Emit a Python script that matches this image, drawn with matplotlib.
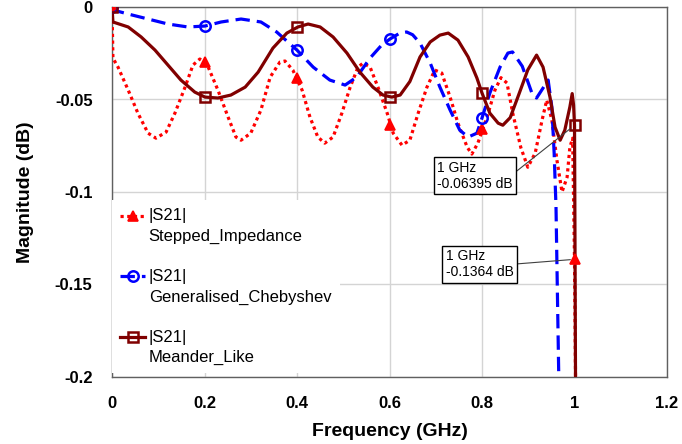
import matplotlib
matplotlib.use("Agg")
import matplotlib.pyplot as plt
from matplotlib.lines import Line2D
from matplotlib.legend_handler import HandlerLine2D

plt.rcParams['font.family'] = ['Liberation Sans', 'DejaVu Sans']

# ---------------- data ----------------
# Stepped impedance |S21| (dB)
si_f = [0, 0.002, 0.013, 0.035, 0.056, 0.078, 0.095, 0.117, 0.136, 0.158, 0.175,
        0.190, 0.208, 0.229, 0.251, 0.268, 0.279, 0.300, 0.322, 0.342, 0.363,
        0.374, 0.391, 0.411, 0.428, 0.445, 0.460, 0.478, 0.497, 0.515, 0.532,
        0.543, 0.558, 0.575, 0.595, 0.608, 0.627, 0.644, 0.662, 0.681, 0.698,
        0.713, 0.731, 0.748, 0.768, 0.778, 0.791, 0.811, 0.828, 0.841, 0.854,
        0.867, 0.884, 0.899, 0.915, 0.930, 0.940, 0.951, 0.962, 0.973, 0.984,
        0.990, 0.996, 1.000, 1.004]
si_db = [0, -0.0276, -0.0325, -0.0449, -0.0574, -0.0682, -0.0709, -0.0676, -0.0574,
         -0.0433, -0.0314, -0.0281, -0.0325, -0.0449, -0.0595, -0.0703, -0.0720,
         -0.0682, -0.0557, -0.0379, -0.0298, -0.0292, -0.0341, -0.0449, -0.0595,
         -0.0703, -0.0736, -0.0703, -0.0574, -0.0433, -0.0325, -0.0303, -0.0325,
         -0.0433, -0.0574, -0.0682, -0.0747, -0.0720, -0.0574, -0.0433, -0.0341,
         -0.0357, -0.0487, -0.0628, -0.0758, -0.0795, -0.0736, -0.0595, -0.0449,
         -0.0382, -0.0411, -0.0580, -0.0760, -0.0866, -0.0790, -0.0610, -0.0503,
         -0.0610, -0.0828, -0.1000, -0.0920, -0.0758, -0.0709, -0.1364, -0.25]

# Generalised Chebyshev |S21| (dB)
gc_f = [0, 0.002, 0.035, 0.078, 0.121, 0.164, 0.201, 0.236, 0.279, 0.322, 0.356,
        0.400, 0.435, 0.471, 0.504, 0.529, 0.558, 0.583, 0.601, 0.623, 0.637,
        0.650, 0.666, 0.688, 0.709, 0.731, 0.752, 0.770, 0.789, 0.800, 0.817,
        0.839, 0.856, 0.866, 0.887, 0.900, 0.910, 0.918, 0.932, 0.943, 0.951,
        0.956, 0.960, 0.966, 0.968]
gc_db = [0, -0.0016, -0.0038, -0.0065, -0.0092, -0.0108, -0.0103, -0.0081, -0.0065,
         -0.0081, -0.0135, -0.0233, -0.0325, -0.0395, -0.0422, -0.0379, -0.0276,
         -0.0206, -0.0173, -0.0140, -0.0135, -0.0150, -0.0195, -0.0303, -0.0433,
         -0.0557, -0.0666, -0.0703, -0.0682, -0.0600, -0.0465, -0.0325, -0.0249,
         -0.0243, -0.0320, -0.0410, -0.0480, -0.0492, -0.0438, -0.0395, -0.0541,
         -0.0790, -0.1080, -0.2000, -0.25]

# Meander-like |S21| (dB)
ml_f = [0, 0.002, 0.035, 0.063, 0.093, 0.121, 0.149, 0.179, 0.201, 0.229, 0.257,
        0.288, 0.316, 0.348, 0.378, 0.402, 0.424, 0.450, 0.478, 0.508, 0.536,
        0.564, 0.586, 0.605, 0.623, 0.644, 0.666, 0.688, 0.709, 0.727, 0.748,
        0.770, 0.789, 0.800, 0.817, 0.835, 0.845, 0.861, 0.880, 0.899, 0.918,
        0.932, 0.947, 0.958, 0.969, 0.979, 0.990, 0.995, 0.998, 1.000, 1.003]
ml_db = [0, -0.0081, -0.0108, -0.0162, -0.0233, -0.0314, -0.0395, -0.0460, -0.0487,
         -0.0492, -0.0476, -0.0433, -0.0352, -0.0222, -0.0141, -0.0108, -0.0092,
         -0.0108, -0.0162, -0.0249, -0.0352, -0.0433, -0.0476, -0.0487, -0.0476,
         -0.0403, -0.0270, -0.0189, -0.0152, -0.0141, -0.0179, -0.0270, -0.0384,
         -0.0465, -0.0574, -0.0628, -0.0639, -0.0598, -0.0470, -0.0340, -0.0260,
         -0.0325, -0.0487, -0.0650, -0.0720, -0.0666, -0.0540, -0.0468, -0.0530,
         -0.06395, -0.25]

# marker samples
mk_f = [0, 0.2, 0.4, 0.6, 0.8, 1.0]
si_mk = [0, -0.0298, -0.0386, -0.0640, -0.0657, -0.1364]
gc_mk_f = [0, 0.2, 0.4, 0.6, 0.8]
gc_mk = [0, -0.0103, -0.0233, -0.0173, -0.0600]
ml_mk = [0, -0.0487, -0.0108, -0.0487, -0.0465, -0.06395]

labels = ["|S21|\nStepped_Impedance", "|S21|\nGeneralised_Chebyshev", "|S21|\nMeander_Like"]
x_ticks = [0, 0.2, 0.4, 0.6, 0.8, 1.0, 1.2]
x_ticklabels = ["0", "0.2", "0.4", "0.6", "0.8", "1", "1.2"]
y_ticks = [0, -0.05, -0.1, -0.15, -0.2]
y_ticklabels = ["0", "-0.05", "-0.1", "-0.15", "-0.2"]
ann1 = "1 GHz\n-0.06395 dB"
ann2 = "1 GHz\n-0.1364 dB"

# ---------------- styles ----------------
RED = '#FF0000'
BLUE = '#0000FF'
DRED = '#800000'
si_style = dict(color=RED, lw=2.3, ls=(0, (1, 1.1)), dash_capstyle='butt')
gc_style = dict(color=BLUE, lw=2.3, ls=(0, (4.5, 2.2)))
ml_style = dict(color=DRED, lw=2.3, ls='-')
si_mstyle = dict(marker='^', ms=7.5, mfc=RED, mec=RED, mew=1.2)
gc_mstyle = dict(marker='o', ms=7.5, mfc='none', mec=BLUE, mew=1.8)
ml_mstyle = dict(marker='s', ms=7.5, mfc='none', mec=DRED, mew=1.8)

fig = plt.figure(figsize=(6.82, 4.44), dpi=100)
ax = fig.add_axes([112 / 682, (444 - 377) / 444, 555 / 682, 370 / 444])

ax.plot(si_f, si_db, **si_style, zorder=3)
ax.plot(gc_f, gc_db, **gc_style, zorder=3)
ax.plot(ml_f, ml_db, **ml_style, zorder=3)
ax.plot(mk_f, si_mk, ls='none', **si_mstyle, zorder=4)
ax.plot(gc_mk_f, gc_mk, ls='none', **gc_mstyle, zorder=4)
ax.plot(mk_f, ml_mk, ls='none', **ml_mstyle, zorder=4)

ax.set_xlim(0, 1.2)
ax.set_ylim(-0.2, 0)
ax.set_xticks(x_ticks)
ax.set_xticklabels(x_ticklabels, fontsize=12, fontweight='bold')
ax.set_yticks(y_ticks)
ax.set_yticklabels(y_ticklabels, fontsize=12, fontweight='bold')
ax.tick_params(axis='x', length=0, pad=14)
ax.tick_params(axis='y', length=0, pad=14)
ax.grid(True, color='#D4D4D4', lw=1)
ax.set_axisbelow(True)
for s in ax.spines.values():
    s.set_color('#606060')
    s.set_linewidth(1)

ax.set_xlabel("Frequency (GHz)", fontsize=14, fontweight='bold')
ax.set_ylabel("Magnitude (dB)", fontsize=14, fontweight='bold')
ax.xaxis.set_label_coords(0.5, -0.125)
ax.yaxis.set_label_coords(-0.14, 0.5)

# annotations
bbox = dict(boxstyle='square,pad=0.25', fc='white', ec='black', lw=1)
ax.annotate(ann1, xy=(1.0, -0.06395), xytext=(0.703, -0.0912), fontsize=10,
            ha='left', va='center', bbox=bbox, zorder=6,
            arrowprops=dict(arrowstyle='-', color='#404040', lw=0.8,
                            shrinkA=0, shrinkB=4, relpos=(1.0, 0.55)))
ax.annotate(ann2, xy=(1.0, -0.1364), xytext=(0.722, -0.139), fontsize=10,
            ha='left', va='center', bbox=bbox, zorder=6,
            arrowprops=dict(arrowstyle='-', color='#404040', lw=0.8,
                            shrinkA=0, shrinkB=3, relpos=(1.0, 0.5)))


class TopHandler(HandlerLine2D):
    def create_artists(self, legend, orig_handle, xdescent, ydescent, width,
                       height, fontsize, trans):
        return super().create_artists(legend, orig_handle, xdescent,
                                      ydescent - 1.26 * fontsize, width, height,
                                      fontsize, trans)


handles = [Line2D([], [], **si_style, **si_mstyle),
           Line2D([], [], **gc_style, **gc_mstyle),
           Line2D([], [], **ml_style, **ml_mstyle)]
leg = ax.legend(handles, labels, loc='upper left', bbox_to_anchor=(0.0, 0.478),
                borderaxespad=0, borderpad=0.5, handlelength=1.5,
                handletextpad=0.2, labelspacing=1.5, fontsize=12,
                frameon=True, fancybox=False, framealpha=1,
                handler_map={Line2D: TopHandler(numpoints=1)})
for t in leg.get_texts():
    t.set_linespacing(1.45)
leg.get_frame().set_facecolor('white')
leg.get_frame().set_edgecolor('none')
leg.set_zorder(5)

fig.savefig("out.png", dpi=100)
